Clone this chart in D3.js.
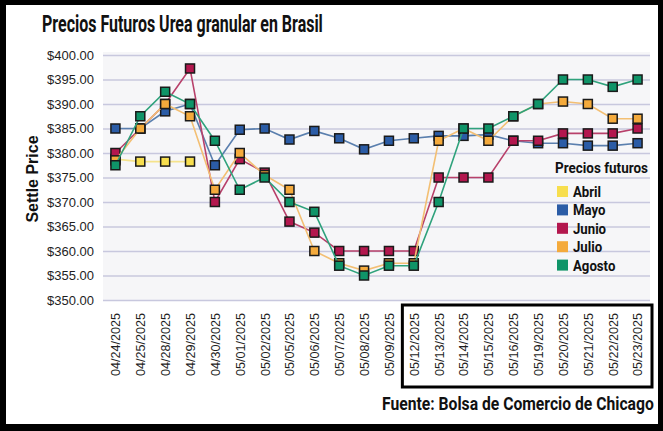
<!DOCTYPE html>
<html>
<head>
<meta charset="utf-8">
<script src="https://cdn.jsdelivr.net/npm/d3@7"></script>
<style>
  body { margin: 0; background: #000; }
  svg { display: block; }
</style>
</head>
<body>
<svg id="chart"></svg>
<script>
const dates = ["04/24/2025","04/25/2025","04/28/2025","04/29/2025","04/30/2025","05/01/2025","05/02/2025",
  "05/05/2025","05/06/2025","05/07/2025","05/08/2025","05/09/2025","05/12/2025","05/13/2025","05/14/2025",
  "05/15/2025","05/16/2025","05/19/2025","05/20/2025","05/21/2025","05/22/2025","05/23/2025"];

const abril  = [378.75, 378.25, 378.25, 378.25, null, null, null, null, null, null, null, null, null, null, null, null, null, null, null, null, null, null];
const mayo   = [385, 385, 388.5, 390, 377.5, 384.75, 385, 382.75, 384.5, 383, 380.75, 382.5, 383, 383.5, 383.5, 383.75, 382.5, 382, 382, 381.5, 381.5, 382];
const junio  = [380, 385, 390, 397.25, 370, 378.75, 376, 366, 363.75, 360, 360, 360, 360, 375, 375, 375, 382.5, 382.5, 384, 384, 384, 385];
const julio  = [378.5, 385, 390, 387.5, 372.5, 380, 375.5, 372.5, 360, 357.5, 356, 357.5, 357.5, 382.5, 385, 382.5, 387.5, 390, 390.5, 390, 387, 387];
const agosto = [377.5, 387.5, 392.5, 390, 382.5, 372.5, 375, 370, 368, 357, 355, 357, 357, 370, 385, 385, 387.5, 390, 395, 395, 393.5, 395];

const seriesNames = ["Abril", "Mayo", "Junio", "Julio", "Agosto"];
const seriesValues = [abril, mayo, junio, julio, agosto];
const yTicks = [350, 355, 360, 365, 370, 375, 380, 385, 390, 395, 400];

const colors = { Abril: "#f7de4e", Mayo: "#2b5ca6", Junio: "#b3174e", Julio: "#f4aa3c", Agosto: "#0f9468" };
const lineColors = { Abril: "#f5e38c", Mayo: "#5a7fae", Junio: "#b8406a", Julio: "#f3bf73", Agosto: "#2fa27c" };

const width = 663, height = 431;
const plot = { left: 103, right: 650, top: 55, bottom: 300 };

const svg = d3.select("#chart").attr("width", width).attr("height", height);
svg.append("rect").attr("width", width).attr("height", height).attr("fill", "#000");
svg.append("rect").attr("x", 6).attr("y", 5).attr("width", 652).attr("height", 419).attr("fill", "#fff");

const xScale = d3.scalePoint().domain(dates).range([plot.left, plot.right]).padding(0.5);
const yScale = d3.scaleLinear().domain([350, 400]).range([plot.bottom, plot.top]);

svg.append("rect").attr("x", plot.left).attr("y", plot.top - 3)
  .attr("width", plot.right - plot.left).attr("height", plot.bottom - plot.top + 3).attr("fill", "#f6f6f8");

// y axis with grid
const yAxis = d3.axisLeft(yScale).tickValues(yTicks).tickFormat(d => "$" + d.toFixed(2))
  .tickSize(-(plot.right - plot.left)).tickPadding(9);
const gy = svg.append("g").attr("transform", `translate(${plot.left},0)`).call(yAxis);
gy.select(".domain").remove();
gy.selectAll(".tick line").attr("stroke", "#c8c8de").attr("stroke-width", 1.5);
gy.selectAll(".tick text").attr("fill", "#1e1e1e").attr("font-size", "13px").attr("font-family", "Liberation Sans, Arial, sans-serif");

// x axis
const xAxis = d3.axisBottom(xScale).tickSize(0).tickPadding(0);
const gx = svg.append("g").attr("transform", `translate(0,${plot.bottom})`).call(xAxis);
gx.select(".domain").remove();
gx.selectAll(".tick text")
  .attr("transform", "rotate(-90)").attr("text-anchor", "end")
  .attr("x", -13).attr("y", 0).attr("dy", "0.35em")
  .attr("fill", "#1e1e1e").attr("font-size", "12.6px").attr("font-family", "Liberation Sans, Arial, sans-serif");

// box around the last dates
const step = xScale.step();
svg.append("rect")
  .attr("x", xScale(dates[12]) - step / 2 + 1).attr("y", 305)
  .attr("width", xScale(dates[21]) - xScale(dates[12]) + step + 1).attr("height", 82)
  .attr("fill", "none").attr("stroke", "#000").attr("stroke-width", 3);

// lines and markers
const line = d3.line().defined(d => d.v != null).x(d => xScale(d.date)).y(d => yScale(d.v));
seriesNames.forEach((name, i) => {
  const pts = seriesValues[i].map((v, j) => ({ date: dates[j], v: v }));
  const g = svg.append("g").attr("class", "series-" + name);
  g.append("path").datum(pts).attr("d", line)
    .attr("fill", "none").attr("stroke", lineColors[name]).attr("stroke-width", 1.6);
  g.selectAll("rect").data(pts.filter(d => d.v != null)).join("rect")
    .attr("x", d => xScale(d.date) - 4.5).attr("y", d => yScale(d.v) - 4.5)
    .attr("width", 9).attr("height", 9)
    .attr("fill", colors[name]).attr("stroke", "#1a1a1a").attr("stroke-width", 1.5);
});

// condensed bold text: squeeze horizontally to a target width
function condensed(txt, x, y, size, targetW) {
  const t = svg.append("text").text(txt).attr("x", 0).attr("y", 0)
    .attr("font-family", "Roboto, sans-serif").attr("font-weight", "bold")
    .attr("font-size", size + "px").attr("fill", "#111");
  const w = t.node().getComputedTextLength();
  t.attr("transform", `translate(${x},${y}) scale(${targetW / w},1)`);
  return t;
}

condensed("Precios Futuros Urea granular en Brasil", 42, 32, 23, 281);
condensed("Fuente: Bolsa de Comercio de Chicago", 382, 410, 18, 272);

svg.append("text").text("Settle Price")
  .attr("transform", "translate(38,179) rotate(-90)").attr("text-anchor", "middle")
  .attr("font-family", "Liberation Sans, Arial, sans-serif").attr("font-weight", "bold")
  .attr("font-size", "16px").attr("fill", "#111");

// legend
condensed("Precios futuros", 555, 173, 15.5, 93);
seriesNames.forEach((name, i) => {
  const cy = 191.5 + i * 18.4;
  svg.append("rect").attr("x", 557).attr("y", cy - 5.5).attr("width", 11).attr("height", 11).attr("fill", colors[name]);
  svg.append("text").text(name).attr("x", 0).attr("y", 0)
    .attr("font-family", "Roboto, sans-serif").attr("font-weight", "bold").attr("font-size", "15px")
    .attr("fill", "#111").attr("transform", `translate(573,${cy + 5.5}) scale(0.88,1)`);
});
</script>
</body>
</html>
